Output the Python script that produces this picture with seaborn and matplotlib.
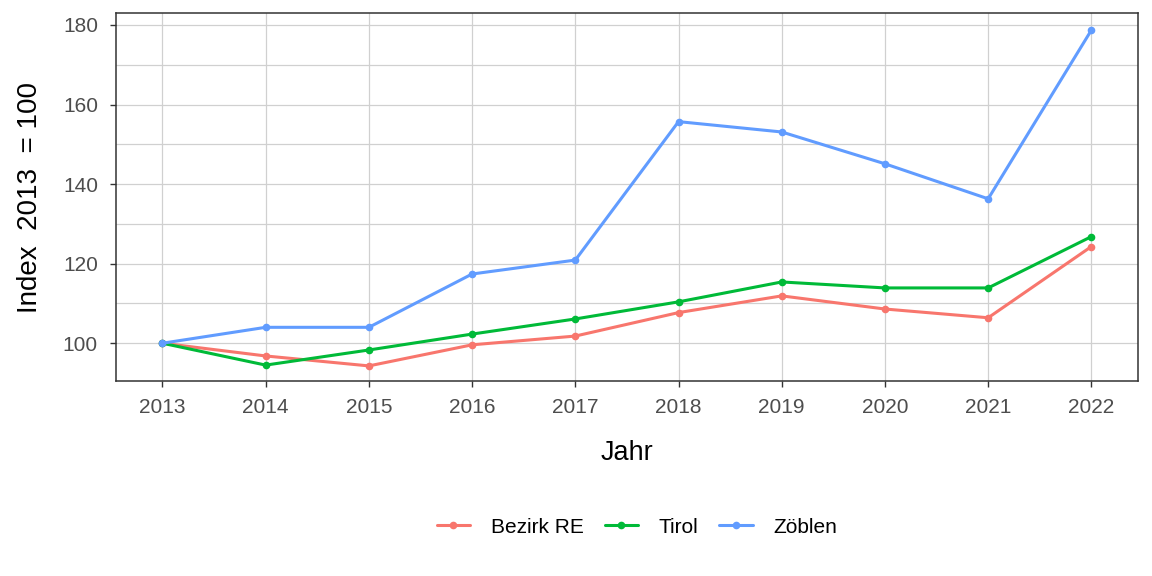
import numpy as np
import pandas as pd
import matplotlib
matplotlib.use("Agg")
import matplotlib.pyplot as plt
import seaborn as sns
from matplotlib.ticker import MultipleLocator

# data
years = [2013, 2014, 2015, 2016, 2017, 2018, 2019, 2020, 2021, 2022]
bezirk_re = [100, 96.8, 94.3, 99.6, 101.8, 107.7, 111.9, 108.6, 106.4, 124.3]
tirol = [100, 94.5, 98.3, 102.3, 106.1, 110.4, 115.4, 113.9, 113.9, 126.8]
zoeblen = [100, 104.0, 104.0, 117.4, 120.9, 155.7, 153.1, 145.1, 136.3, 178.7]
regions = ["Bezirk RE", "Tirol", "Zöblen"]
colors = ["#F8766D", "#00BA38", "#619CFF"]

df = pd.DataFrame({
    "Jahr": years * 3,
    "Index": bezirk_re + tirol + zoeblen,
    "Region": [r for r in regions for _ in years],
})

sns.set_style("ticks")
plt.rcParams["font.family"] = ["Liberation Sans", "DejaVu Sans"]

fig = plt.figure(figsize=(11.52, 5.76), dpi=100)
ax = fig.add_axes([0.1007, 0.3385, 0.887, 0.6389])

sns.lineplot(data=df, x="Jahr", y="Index", hue="Region", palette=colors,
             marker="o", markersize=5.5, markeredgewidth=0, linewidth=2.2, ax=ax)

ax.set_xlim(2012.55, 2022.45)
ax.set_ylim(90.5, 183)
ax.set_xticks(years)
ax.yaxis.set_major_locator(MultipleLocator(20))
ax.yaxis.set_minor_locator(MultipleLocator(10))
ax.grid(True, which="major", color="#d0d0d0", linewidth=0.9)
ax.grid(True, which="minor", axis="y", color="#d0d0d0", linewidth=0.9)
ax.set_axisbelow(True)
for s in ax.spines.values():
    s.set_visible(True)
    s.set_color("#333333")
    s.set_linewidth(1.1)
ax.tick_params(axis="both", which="major", direction="out", length=4, width=1,
               bottom=True, left=True, top=False, right=False,
               color="#333333", labelsize=15, labelcolor="#4d4d4d")
ax.tick_params(axis="x", which="major", pad=8.5)
ax.tick_params(axis="y", which="major", pad=9)
ax.tick_params(axis="y", which="minor", length=0)

ax.set_xlabel("Jahr", fontsize=19.5, labelpad=16, color="black")
ax.set_ylabel("Index  2013  = 100", fontsize=20, labelpad=14, color="black")

handles, labels = ax.get_legend_handles_labels()
leg = ax.legend(handles, labels, loc="center", bbox_to_anchor=(0.553, 0.085),
                bbox_transform=fig.transFigure, ncol=3, frameon=False, fontsize=15,
                handlelength=1.6, columnspacing=1.0, handletextpad=1.0)
for t in leg.get_texts():
    t.set_color("black")

fig.savefig("out.png", dpi=100)
